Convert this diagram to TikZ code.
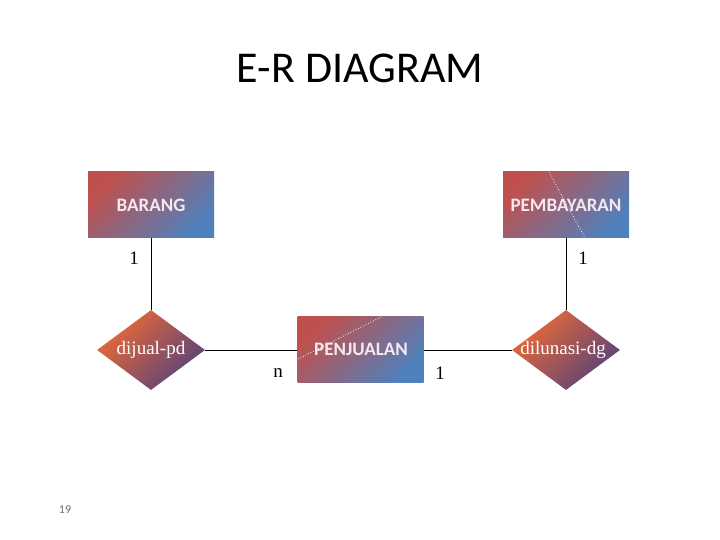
\documentclass[tikz,border=0pt]{standalone}
\usepackage{fontspec}
\setmainfont{Liberation Serif}
\newfontfamily\calibri{Carlito}
\usetikzlibrary{shapes.geometric}
\definecolor{boxred}{RGB}{192,80,77}
\definecolor{boxblue}{RGB}{79,129,189}
\definecolor{diaorange}{RGB}{234,106,54}
\definecolor{diapurple}{RGB}{88,66,122}
\definecolor{boxtext}{RGB}{248,232,238}
\definecolor{pagegray}{RGB}{110,110,110}
\tikzset{
  entity/.style={rectangle, minimum width=126pt, minimum height=66pt, inner sep=0pt,
    top color=boxred, bottom color=boxblue, shading angle=45,
    text=boxtext, font=\calibri\bfseries\fontsize{19}{22}\selectfont},
  relation/.style={diamond, minimum width=108pt, minimum height=80pt, inner sep=0pt,
    top color=diaorange, bottom color=diapurple, shading angle=45},
  reltext/.style={text=white, font=\fontsize{19}{22}\selectfont},
  card/.style={font=\fontsize{19}{22}\selectfont},
  conn/.style={draw, line width=0.6pt},
  dots/.style={draw=white, dotted, line width=0.8pt}
}
\begin{document}
\begin{tikzpicture}[x=1pt,y=1pt]
\useasboundingbox (0,0) rectangle (720,540);
\node[font=\calibri\fontsize{44}{50}\selectfont] (title) at (360,472) {E-R DIAGRAM};
\node[entity] (barang) at (151,335) {BARANG};
\node[entity] (pembayaran) at (566,335) {PEMBAYARAN};
\node[entity] (penjualan) at (360.5,190) {};
\node[relation] (dijual) at (151,190) {};
\node[relation] (dilunasi) at (566,190) {};
% dotted artefacts
\coordinate (p1) at (549,368);
\coordinate (p2) at (585,302);
\draw[dots] (p1) -- (p2);
\coordinate (q1) at (298,181);
\coordinate (q2) at (383,224);
\draw[dots] (q1) -- (q2);
\node[text=boxtext, font=\calibri\bfseries\fontsize{19}{22}\selectfont] (penjtext) at (361,191) {PENJUALAN};
\node[reltext] (dijualtext) at (151,190) {dijual-pd};
\node[reltext] (dilunasitext) at (563,190) {dilunasi-dg};
% connectors
\draw[conn] (barang.south) -- (dijual.north);
\draw[conn] (pembayaran.south) -- (dilunasi.north);
\draw[conn] (dijual.east) -- (penjualan.west);
\draw[conn] (penjualan.east) -- (dilunasi.west);
% cardinalities
\node[card] (c1) at (134,282) {1};
\node[card] (c2) at (583,282) {1};
\node[card] (c3) at (278,167) {n};
\node[card] (c4) at (440,167) {1};
\node[text=pagegray, font=\calibri\fontsize{12}{14}\selectfont] (page) at (65,30) {19};
\end{tikzpicture}
\end{document}
